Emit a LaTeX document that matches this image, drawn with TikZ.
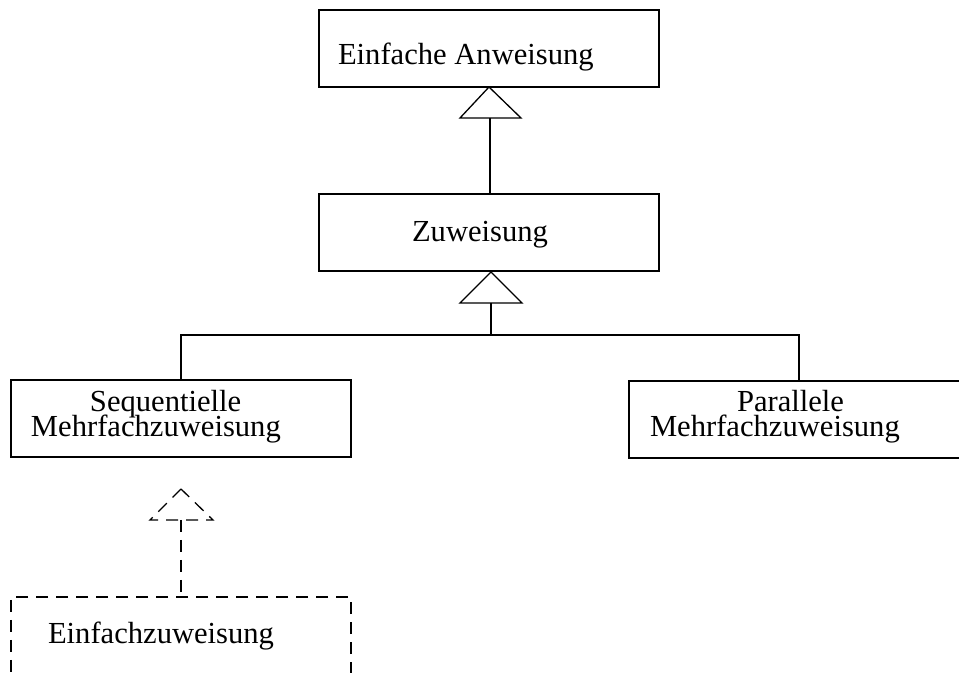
\documentclass[tikz,border=0pt]{standalone}
\usepackage{fontspec}
\setmainfont{Liberation Serif}
\begin{document}
\begin{tikzpicture}[x=0.5pt,y=-0.5pt,
  every node/.style={inner sep=0pt, outer sep=0pt},
  line/.style={line width=0.65pt},
  dline/.style={line width=0.65pt, dash pattern=on 6pt off 4pt},
  classbox/.style={draw, line width=0.65pt, rectangle, minimum width=170pt, minimum height=38.5pt},
  label/.style={font=\fontsize{15.3}{15.3}\selectfont, anchor=base west},
  gen/.style={line width=0.65pt, fill=white}
]
\useasboundingbox (0,0) rectangle (959,673);
\clip (0,0) rectangle (959,673);

% class boxes
\node[classbox] (anw) at (489,48.5) {};
\node[classbox] (zuw) at (489,232.5) {};
\node[classbox] (seq) at (181,418.5) {};
\node[classbox] (par) at (799,419.5) {};
\node[classbox, dash pattern=on 6pt off 4pt] (einf) at (181,635.5) {};

% class names
\node[label] (tanw) at (338,65) {Einfache Anweisung};
\node[label] (tzuw) at (412,242) {Zuweisung};
\node[label] (tseqa) at (90,412) {Sequentielle};
\node[label] (tseqb) at (31,437) {Mehrfachzuweisung};
\node[label] (tpara) at (737,412) {Parallele};
\node[label] (tparb) at (650,437) {Mehrfachzuweisung};
\node[label] (teinf) at (48,643) {Einfachzuweisung};

% generalization triangles
\coordinate (g1) at (490,118);
\draw[gen] (anw.south) -- (460,118) -- (521,118) -- cycle;
\coordinate (g2) at (491,303);
\draw[gen] (491,272) -- (460,303) -- (522,303) -- cycle;
\coordinate (g3) at (181,520);
\draw[dline] (seq.south |- 0,489) -- (150,520) -- (213,520) -- cycle;

% connectors
\draw[line] (g1) -- (zuw.north -| g1);
\coordinate (bus) at (491,335);
\draw[line] (g2) -- (bus);
\draw[line] (seq.north) |- (bus) -| (par.north);
\draw[dline] (g3) -- (einf.north);
\end{tikzpicture}
\end{document}
